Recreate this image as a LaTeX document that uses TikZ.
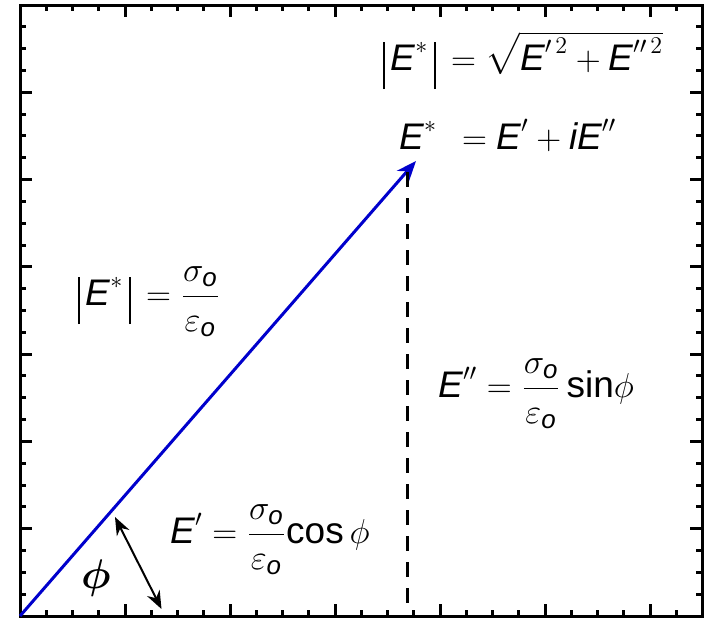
\documentclass[tikz,border=0pt]{standalone}
\usepackage{amsmath}
\usepackage{fontspec}
\setmainfont{Liberation Sans}
\usetikzlibrary{arrows.meta}

\newcommand{\vE}{\textit{E}}
\newcommand{\vo}{\textit{o}}
\newcommand{\vi}{\textit{i}}
\newcommand{\mbar}{\rule[-9.5pt]{0.8pt}{23.5pt}}
\newcommand{\sigeps}{\dfrac{\sigma_{\vo}\rule[-5pt]{0pt}{0pt}}{\rule{0pt}{15pt}\varepsilon_{\vo}}}

\begin{document}
\begin{tikzpicture}[x=0.5pt,y=0.5pt,>=Stealth]
  \useasboundingbox (0,0) rectangle (705,618);
  \tikzset{
    formula/.style={inner sep=0pt,anchor=base west,font=\fontsize{18.5}{22}\selectfont},
    tick/.style={line width=1.5pt},
  }
  % frame and ticks
  \draw[line width=1.5pt] (20,2) rectangle (702,613);
  \foreach \k in {0,...,26}{
    \pgfmathsetmacro\len{ifthenelse(mod(\k,4)==0,12,6)}
    \draw[tick] (20+26.25*\k,2) -- ++(0,\len);
    \draw[tick] (20+26.25*\k,613) -- ++(0,-\len);
  }
  \foreach \k in {0,...,28}{
    \pgfmathsetmacro\len{ifthenelse(mod(\k,4)==0,12,6)}
    \draw[tick] (20,2+21.82*\k) -- ++(\len,0);
    \draw[tick] (702,2+21.82*\k) -- ++(-\len,0);
  }

  % phasor
  \coordinate (origin) at (20,2);
  \coordinate (tip) at (416,457);
  \coordinate (foot) at (407,6);
  \coordinate (top) at (407,446);
  \draw[line width=1.5pt,blue!80!black,-{Stealth[length=10pt,width=8pt]}] (origin) -- (tip);
  \draw[line width=1.5pt,dash pattern=on 7.5pt off 5.5pt] (top) -- (foot);

  % angle
  \coordinate (phiA) at (115,101);
  \coordinate (phiB) at (161.5,9);
  \draw[line width=1pt,{Stealth[length=9pt,width=7pt]}-{Stealth[length=9pt,width=7pt]}] (phiA) -- (phiB);
  \node[inner sep=0pt,font=\fontsize{21}{25}\selectfont] (phi) at (96,40) {$\boldsymbol{\phi}$};

  % formulas
  \node[formula] (modsqrt) at (383,548)
    {$\mbar\,\vE^{*}\,\mbar\, = \sqrt{\vE'^{\,2}+\vE''^{\,2}}$};
  \node[formula] (complex) at (399,469)
    {$\vE^{*}\;\, = \vE' + \vi\vE''$};
  \node[formula] (modfrac) at (78,313)
    {$\mbar\,\vE^{*}\,\mbar\, = \sigeps$};
  \node[formula] (loss) at (438,221)
    {$\vE'' = \sigeps\,\textrm{sin}\phi$};
  \node[formula] (storage) at (170,75)
    {$\vE' = \sigeps\textrm{cos}\,\phi$};
\end{tikzpicture}
\end{document}
